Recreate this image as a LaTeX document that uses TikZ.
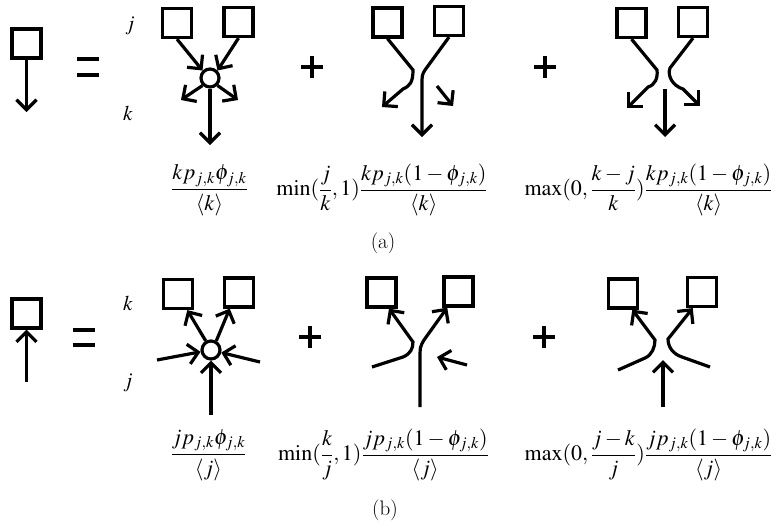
\documentclass[tikz,border=0pt]{standalone}
\usepackage{mathptmx}
\usetikzlibrary{arrows.meta}

\begin{document}
\begin{tikzpicture}[x=1pt,y=-1pt,line width=3.2pt,
  sq/.style={draw, minimum size=29pt, inner sep=0pt},
  hub/.style={draw, circle, fill=white, minimum size=18pt, inner sep=0pt},
  tip/.style={-{Straight Barb[length=10pt,width=20pt]}},
  frm/.style={inner sep=0pt, font=\fontsize{22}{26}\selectfont},
  lbl/.style={inner sep=0pt, font=\fontsize{21}{25}\selectfont},
  tag/.style={inner sep=0pt, font=\fontfamily{lmr}\fontsize{21}{25}\selectfont}]
  \useasboundingbox (0,0) rectangle (779,531);
  \foreach \x/\y in {88/59,88/75,83.5/330,83.5/345}
    \draw[line width=4pt] (\x-11,\y) -- (\x+11,\y);
  \foreach \x/\y in {312/67,545/67,310/337,544/337}
    \draw[line width=4pt] (\x-11,\y) -- (\x+11,\y) (\x,\y-11) -- (\x,\y+11);

  % (a)
  \node[sq] (s0) at (26.5,43.5) {};
  \coordinate (s0end) at (26.5,112);
  \draw[tip] (s0) -- (s0end);
  \node[lbl] (ja) at (130,26) {$j$};
  \node[lbl] (ka) at (128,113) {$k$};

  \node[sq] (a1l) at (177,23) {};
  \node[sq] (a1r) at (238.5,22) {};
  \node[hub] (h1) at (210,78) {};
  \coordinate (a1o1) at (181,100);
  \coordinate (a1o2) at (238,100);
  \coordinate (a1o3) at (210,145);
  \draw[tip] (a1l.south) -- (h1.135);
  \draw[tip] (a1r.south) -- (h1.45);
  \draw[tip] (h1.225) -- (a1o1);
  \draw[tip] (h1.315) -- (a1o2);
  \draw[tip] (h1.south) -- (a1o3);

  \node[sq] (a2l) at (387.5,22.5) {};
  \node[sq] (a2r) at (449,21) {};
  \coordinate (a2e1) at (382,107);
  \coordinate (a2e2) at (422,137);
  \coordinate (a2s) at (437,86);
  \coordinate (a2e3) at (453,106);
  \draw[tip] (a2l.south) -- (413,70) .. controls (413,82) and (410,86) .. (403,89) -- (a2e1);
  \draw[tip] (a2r.south) -- (425,70) .. controls (422,75) .. (422,85) -- (a2e2);
  \draw[tip] (a2s) -- (a2e3);

  \node[sq] (a3l) at (631.5,23) {};
  \node[sq] (a3r) at (693,22) {};
  \coordinate (a3e1) at (627,108);
  \coordinate (a3e2) at (700,106);
  \coordinate (a3s) at (665,89);
  \coordinate (a3e3) at (665,137);
  \draw[tip] (a3l.south) -- (657,70) .. controls (658,78) and (655,85) .. (648,87) -- (a3e1);
  \draw[tip] (a3r.south) -- (670,68) .. controls (667,76) and (673,86) .. (683,89) -- (a3e2);
  \draw[tip] (a3s) -- (a3e3);

  \node[frm] (fa1) at (209.5,190) {$\displaystyle\frac{kp_{j,k}\phi_{j,k}}{\langle k\rangle}$};
  \node[frm] (fa2) at (382,190) {$\displaystyle\min(\frac{j}{k},1)\frac{kp_{j,k}(1-\phi_{j,k})}{\langle k\rangle}$};
  \node[frm] (fa3) at (648.5,190) {$\displaystyle\max(0,\frac{k-j}{k})\frac{kp_{j,k}(1-\phi_{j,k})}{\langle k\rangle}$};
  \node[tag] (capa) at (383,243) {(a)};

  % (b)
  \node[sq] (s0b) at (26.5,313.5) {};
  \coordinate (s0bst) at (26.5,382);
  \draw[tip] (s0bst) -- (s0b);
  \node[lbl] (kb) at (128,303) {$k$};
  \node[lbl] (jb) at (128,383) {$j$};

  \node[sq] (b1l) at (178,294) {};
  \node[sq] (b1r) at (239,292.5) {};
  \node[hub] (h2) at (211,350) {};
  \coordinate (b1i1) at (157,360);
  \coordinate (b1i2) at (260,362);
  \coordinate (b1i3) at (211,415);
  \draw[tip] (h2.120) -- (b1l.-60);
  \draw[tip] (h2.60) -- (b1r.-120);
  \draw[tip] (b1i1) -- (h2.190);
  \draw[tip] (b1i2) -- (h2.-14);
  \draw[tip] (b1i3) -- (h2.south);

  \node[sq] (b2l) at (381.5,292.5) {};
  \node[sq] (b2r) at (458.5,291.5) {};
  \coordinate (b2s1) at (372,367);
  \coordinate (b2s2) at (420,407);
  \coordinate (b2s3) at (467,365);
  \coordinate (b2e3) at (437,357);
  \draw[tip] (b2s1) -- (403,357) .. controls (410,354) and (413,349) .. (413,342) -- (b2l.-65);
  \draw[tip] (b2s2) -- (420,360) .. controls (420,347) .. (424,340) -- (b2r.-125);
  \draw[tip] (b2s3) -- (b2e3);

  \node[sq] (b3l) at (623,293.5) {};
  \node[sq] (b3r) at (702,292) {};
  \coordinate (b3s1) at (618,370);
  \coordinate (b3s2) at (710,367);
  \coordinate (b3s3) at (663,407);
  \coordinate (b3e3) at (663,360);
  \draw[tip] (b3s1) -- (645,358) .. controls (652,355) and (655,347) .. (655,340) -- (b3l.-60);
  \draw[tip] (b3s2) -- (682,357) .. controls (673,354) and (668,347) .. (668,339) -- (b3r.-120);
  \draw[tip] (b3s3) -- (b3e3);

  \node[frm] (fb1) at (208.5,455) {$\displaystyle\frac{jp_{j,k}\phi_{j,k}}{\langle j\rangle}$};
  \node[frm] (fb2) at (383.5,455) {$\displaystyle\min(\frac{k}{j},1)\frac{jp_{j,k}(1-\phi_{j,k})}{\langle j\rangle}$};
  \node[frm] (fb3) at (648.5,455) {$\displaystyle\max(0,\frac{j-k}{j})\frac{jp_{j,k}(1-\phi_{j,k})}{\langle j\rangle}$};
  \node[tag] (capb) at (385,510) {(b)};
\end{tikzpicture}
\end{document}
